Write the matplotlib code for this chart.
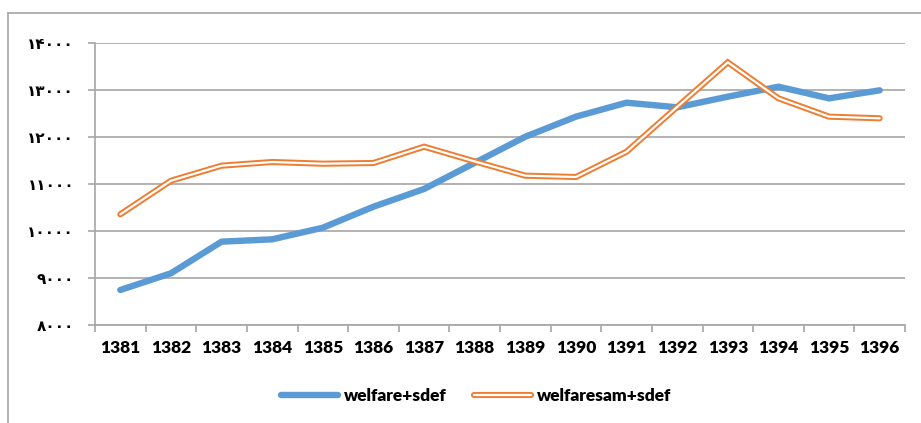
import matplotlib
matplotlib.use("Agg")
import matplotlib.pyplot as plt
from matplotlib.lines import Line2D
import numpy as np

# ===========================================================
# Données
# ===========================================================
years = ["1381", "1382", "1383", "1384", "1385", "1386", "1387", "1388",
         "1389", "1390", "1391", "1392", "1393", "1394", "1395", "1396"]

welfare_sdef = [8745, 9100, 9773, 9823, 10070, 10517, 10894, 11450,
                12006, 12433, 12730, 12632, 12858, 13070, 12823, 12993]

welfaresam_sdef = [10355, 11070, 11390, 11468, 11432, 11447, 11794, 11480,
                   11177, 11149, 11687, 12640, 13589, 12823, 12433, 12398]

y_ticks = [8000, 9000, 10000, 11000, 12000, 13000, 14000]
y_tick_labels = ["۸۰۰۰", "۹۰۰۰", "۱۰۰۰۰", "۱۱۰۰۰", "۱۲۰۰۰", "۱۳۰۰۰", "۱۴۰۰۰"]

# ===========================================================
# Figure
# ===========================================================
blue = "#5B9BD5"
orange = "#ED7D31"
grid = "#A6A6A6"

fig = plt.figure(figsize=(9.21, 4.23), dpi=100)
ax = fig.add_axes([95 / 921, 1 - 325 / 423, 810 / 921, 282 / 423])

x = np.arange(len(years))

ax.plot(x, welfare_sdef, color=blue, lw=4.6,
        solid_capstyle="round", solid_joinstyle="round", zorder=3)
ax.plot(x, welfaresam_sdef, color=orange, lw=4.4,
        solid_capstyle="round", solid_joinstyle="miter", zorder=4)
ax.plot(x, welfaresam_sdef, color="white", lw=1.6,
        solid_capstyle="round", solid_joinstyle="miter", zorder=5)

ax.set_xlim(-0.5, len(years) - 0.5)
ax.set_ylim(8000, 14000)

# grille et axes
ax.set_yticks(y_ticks)
ax.set_yticklabels(y_tick_labels, fontfamily="DejaVu Sans",
                   fontweight="bold", fontsize=11)
ax.yaxis.grid(True, color=grid, lw=1.2)
ax.set_axisbelow(True)

ax.set_xticks(x)
ax.set_xticklabels(years, fontfamily="Lato", fontweight="heavy", fontsize=12.5)
ax.set_xticks(np.arange(-0.5, len(years)), minor=True)
ax.tick_params(axis="x", which="major", length=0, pad=11)
ax.tick_params(axis="x", which="minor", length=5, color=grid, width=1.2)
ax.tick_params(axis="y", length=5, color=grid, width=1.2, pad=10)

for s in ["top", "right"]:
    ax.spines[s].set_visible(False)
for s in ["left", "bottom"]:
    ax.spines[s].set_color(grid)
    ax.spines[s].set_linewidth(1.2)

# ===========================================================
# Légende
# ===========================================================
h1 = Line2D([], [], color=blue, lw=4.6, solid_capstyle="round")
h2a = Line2D([], [], color=orange, lw=4.4, solid_capstyle="round")
h2b = Line2D([], [], color="white", lw=1.6, solid_capstyle="round")
fig.legend([h1, (h2a, h2b)], ["welfare+sdef", "welfaresam+sdef"],
           loc="center", bbox_to_anchor=(476 / 921, 1 - 396 / 423),
           ncol=2, frameon=False, handlelength=3.3, handletextpad=0.3,
           columnspacing=1.6,
           prop={"family": "Lato", "weight": "heavy", "size": 12.5})

# cadre du graphique
fig.add_artist(Line2D([8 / 921, 8 / 921], [0, 1 - 13 / 423],
                      transform=fig.transFigure, color=grid, lw=1.2))
fig.add_artist(Line2D([8 / 921, 1], [1 - 13 / 423, 1 - 13 / 423],
                      transform=fig.transFigure, color=grid, lw=1.2))

fig.savefig("out.png", dpi=100)
